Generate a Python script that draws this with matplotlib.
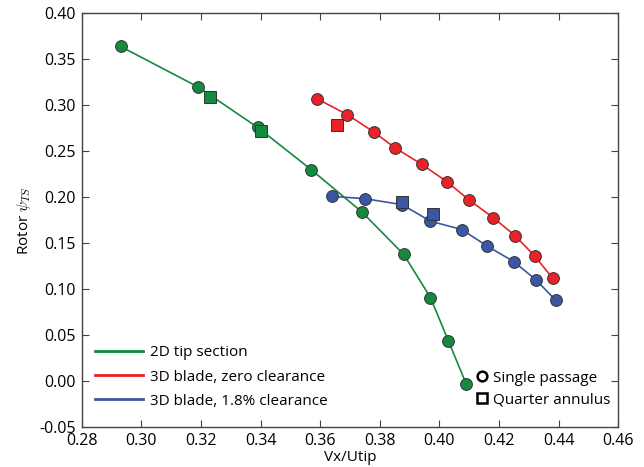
import numpy as np
import matplotlib.pyplot as plt
from matplotlib.lines import Line2D

# ---- data ----
tip_x = [0.293, 0.319, 0.339, 0.357, 0.374, 0.388, 0.397, 0.403, 0.409]
tip_y = [0.364, 0.320, 0.276, 0.230, 0.184, 0.138, 0.091, 0.044, -0.003]
tip_qx = [0.323, 0.340]
tip_qy = [0.309, 0.272]

zero_x = [0.359, 0.369, 0.378, 0.385, 0.394, 0.4025, 0.410, 0.418, 0.4255, 0.432, 0.438]
zero_y = [0.307, 0.290, 0.271, 0.254, 0.236, 0.217, 0.197, 0.178, 0.158, 0.136, 0.112]
zero_qx = [0.3655]
zero_qy = [0.279]

gap_x = [0.364, 0.375, 0.3875, 0.397, 0.4075, 0.416, 0.425, 0.4325, 0.439]
gap_y = [0.201, 0.1985, 0.192, 0.174, 0.165, 0.147, 0.130, 0.110, 0.088]
gap_qx = [0.3875, 0.398]
gap_qy = [0.195, 0.182]

c_tip = "#138a3e"
c_zero = "#ea2228"
c_gap = "#3a56a6"

plt.rcParams.update({
    "font.family": "Open Sans",
    "font.size": 11,
    "axes.edgecolor": "#444444",
    "axes.linewidth": 1.0,
    "xtick.direction": "in",
    "ytick.direction": "in",
    "xtick.top": True,
    "ytick.right": True,
    "xtick.labelsize": 11.5,
    "ytick.labelsize": 11.5,
    "mathtext.fontset": "cm",
})

fig = plt.figure(figsize=(6.44, 4.67), dpi=100)
ax = fig.add_axes([0.127, 0.085, 0.833, 0.8865])

mk = dict(markersize=8.5, markeredgecolor="#333333", markeredgewidth=0.7)

ax.plot(tip_x, tip_y, "-o", color=c_tip, lw=1.2, **mk, zorder=3)
ax.plot(zero_x, zero_y, "-o", color=c_zero, lw=1.2, **mk, zorder=3)
ax.plot(gap_x, gap_y, "-o", color=c_gap, lw=1.2, **mk, zorder=3)
ax.plot(tip_qx, tip_qy, "s", color=c_tip, **mk, zorder=4)
ax.plot(zero_qx, zero_qy, "s", color=c_zero, **mk, zorder=4)
ax.plot(gap_qx, gap_qy, "s", color=c_gap, **mk, zorder=4)

ax.set_xlim(0.28, 0.46)
ax.set_ylim(-0.05, 0.40)
ax.set_xticks(np.arange(0.28, 0.461, 0.02))
ax.set_yticks(np.arange(-0.05, 0.401, 0.05))
ax.set_xticklabels([f"{v:.2f}" for v in np.arange(0.28, 0.461, 0.02)])
ax.set_yticklabels([f"{v:.2f}" for v in np.arange(-0.05, 0.401, 0.05)])
ax.tick_params(length=5, width=0.8, color="#444444", pad=4)
ax.set_xlabel("Vx/Utip", labelpad=1)
ax.set_ylabel(r"Rotor $\psi_{TS}$", labelpad=5)

line_handles = [
    Line2D([], [], color=c_tip, lw=2),
    Line2D([], [], color=c_zero, lw=2),
    Line2D([], [], color=c_gap, lw=2),
]
leg1 = ax.legend(line_handles,
                 ["2D tip section", "3D blade, zero clearance", "3D blade, 1.8% clearance"],
                 loc="lower left", bbox_to_anchor=(0.025, 0.045), frameon=False,
                 borderpad=0, borderaxespad=0,
                 handlelength=3.1, labelspacing=0.6, handletextpad=0.5)
ax.add_artist(leg1)

mark_handles = [
    Line2D([], [], ls="none", marker="o", mfc="white", mec="black", mew=1.8, ms=7),
    Line2D([], [], ls="none", marker="s", mfc="white", mec="black", mew=1.8, ms=7),
]
ax.legend(mark_handles, ["Single passage", "Quarter annulus"],
          loc="lower right", bbox_to_anchor=(0.985, 0.048), frameon=False,
          borderpad=0, borderaxespad=0,
          handlelength=0.8, labelspacing=0.45, handletextpad=0.3)

fig.savefig("out.png", dpi=100)
